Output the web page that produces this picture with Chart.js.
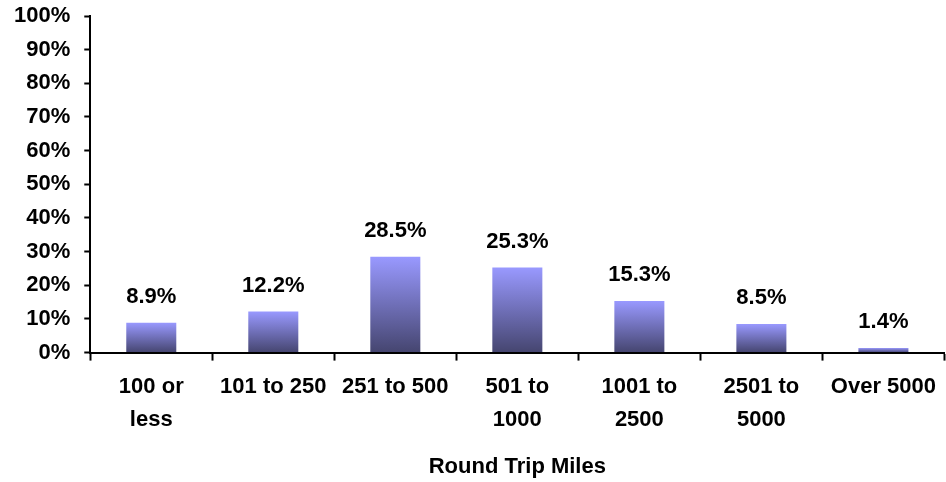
<!DOCTYPE html>
<html lang="en">
<head>
    <meta charset="utf-8">
    <title>Round Trip Miles</title>
    <script src="https://cdn.jsdelivr.net/npm/chart.js"></script>
    <style>
        body { margin: 0; background: #fff; }
        #wrap { width: 946px; height: 482px; }
    </style>
</head>
<body>
    <div id="wrap"><canvas id="milesChart" width="946" height="482"></canvas></div>

    <script>
        // categories (multi-line labels) and percentages
        const categories = [['100 or', 'less'], '101 to 250', '251 to 500', ['501 to', '1000'], ['1001 to', '2500'], ['2501 to', '5000'], 'Over 5000'];
        const shares = [8.9, 12.2, 28.5, 25.3, 15.3, 8.5, 1.4];
        const valueLabels = ['8.9%', '12.2%', '28.5%', '25.3%', '15.3%', '8.5%', '1.4%'];

        const font = { family: '"Liberation Sans", Arial, sans-serif', size: 22, weight: 'bold', lineHeight: 1.5 };

        // gradient per bar: light at top, dark at base
        const barFill = (context) => {
            const chart = context.chart;
            const yScale = chart.scales.y;
            if (!yScale || context.parsed === undefined) return '#9999ff';
            const top = yScale.getPixelForValue(context.parsed.y);
            const base = yScale.getPixelForValue(0);
            if (!isFinite(top) || !isFinite(base) || base - top < 1) return '#9999ff';
            const g = chart.ctx.createLinearGradient(0, top, 0, base);
            g.addColorStop(0, '#9999ff');
            g.addColorStop(1, '#45456f');
            return g;
        };

        const valueLabelPlugin = {
            id: 'valueLabels',
            afterDatasetsDraw(chart) {
                const c = chart.ctx;
                const meta = chart.getDatasetMeta(0);
                c.save();
                c.font = 'bold 22px "Liberation Sans", Arial, sans-serif';
                c.fillStyle = '#000';
                c.textAlign = 'center';
                c.textBaseline = 'bottom';
                meta.data.forEach((bar, i) => {
                    c.fillText(valueLabels[i], bar.x, bar.y - 15);
                });
                c.restore();
            }
        };

        new Chart(document.getElementById('milesChart'), {
            type: 'bar',
            data: {
                labels: categories,
                datasets: [{
                    data: shares,
                    backgroundColor: barFill,
                    borderWidth: 0,
                    categoryPercentage: 1,
                    barPercentage: 0.41
                }]
            },
            options: {
                responsive: false,
                animation: false,
                layout: { padding: { top: 0, right: 0, bottom: 2, left: 0 } },
                plugins: {
                    legend: { display: false },
                    tooltip: { enabled: false }
                },
                scales: {
                    x: {
                        grid: { drawOnChartArea: false, drawTicks: true, tickLength: 8, tickWidth: 2, color: '#000', offset: true },
                        border: { color: '#000', width: 2 },
                        ticks: { color: '#000', font: font, padding: 10, maxRotation: 0, autoSkip: false },
                        title: { display: true, text: 'Round Trip Miles', color: '#000', font: { ...font, lineHeight: 1.2 }, padding: { top: 7, bottom: 0 } }
                    },
                    y: {
                        min: 0,
                        max: 100,
                        afterFit: (scale) => { scale.paddingTop = 16; },
                        grid: { drawOnChartArea: false, drawTicks: true, tickLength: 6, tickWidth: 2, color: '#000' },
                        border: { color: '#000', width: 2 },
                        ticks: { stepSize: 10, color: '#000', font: { ...font, lineHeight: 1.2 }, padding: 14, callback: v => v + '%' }
                    }
                }
            },
            plugins: [valueLabelPlugin]
        });
    </script>
</body>
</html>
